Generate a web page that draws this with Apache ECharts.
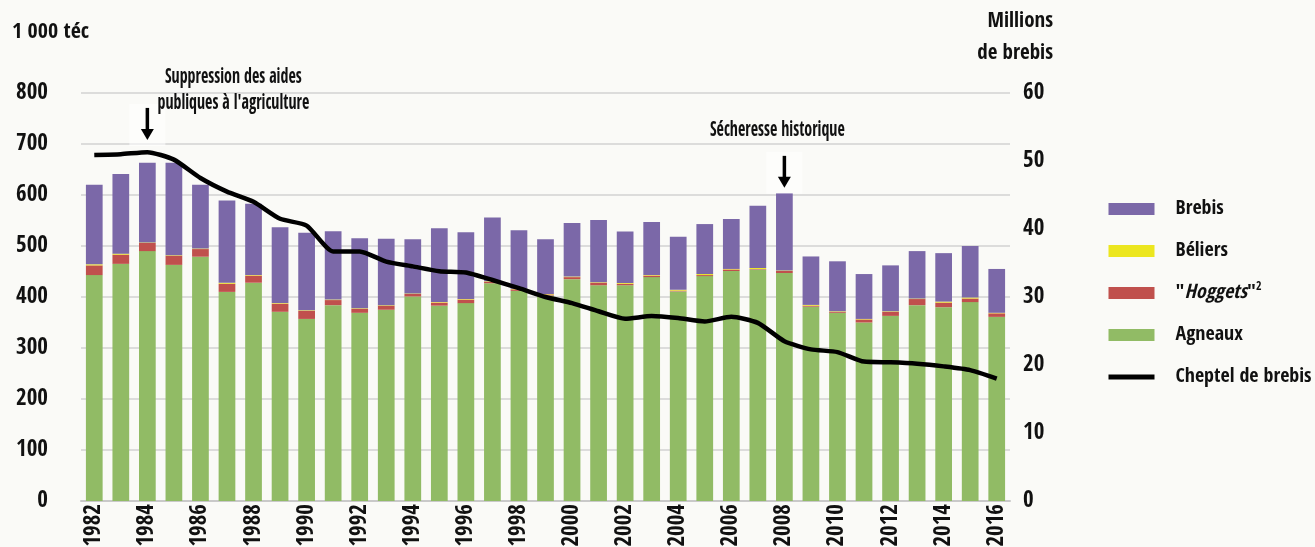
<!DOCTYPE html>
<html>
<head>
<meta charset="utf-8">
<script src="https://cdn.jsdelivr.net/npm/echarts@6/dist/echarts.min.js"></script>
<style>
  html, body { margin: 0; padding: 0; background: #fafaf7; }
  #chart { width: 1315px; height: 547px; }
</style>
</head>
<body>
<div id="chart"></div>
<script>
'use strict';

var years = ['1982', '1983', '1984', '1985', '1986', '1987', '1988', '1989', '1990', '1991',
  '1992', '1993', '1994', '1995', '1996', '1997', '1998', '1999', '2000', '2001',
  '2002', '2003', '2004', '2005', '2006', '2007', '2008', '2009', '2010', '2011',
  '2012', '2013', '2014', '2015', '2016'];

// 1 000 téc
var agneaux = [443, 465, 490, 463, 479, 410, 428, 371, 357, 384, 369, 375, 401, 383, 388, 427, 412, 403,
  435, 423, 423, 439, 411, 441, 451, 454, 447, 381, 369, 350, 363, 384, 380, 390, 361];
var hoggets = [19, 18, 16, 18, 15, 16, 14, 16, 16, 10, 8, 8, 5, 6, 7, 3, 3, 2,
  4, 5, 3, 3, 1.5, 2, 3, 1, 4, 2, 2, 6, 8, 12, 9, 7, 7];
var beliers = [2, 2, 1, 1, 1, 2, 1, 1, 1, 1, 1, 1, 1, 1, 1, 1, 1, 1,
  1, 1, 1.5, 1, 1.5, 2, 1, 2, 1, 1.5, 1, 1, 1, 1, 2, 2, 1];
var brebis = [156, 156, 156, 181, 125, 161, 140, 149, 152, 134, 137, 130, 106, 145, 131, 125, 115, 107,
  105, 122, 101, 104, 104, 98, 98, 122, 152, 95, 98, 88, 90, 93, 95, 101, 86];

// millions de brebis
var cheptel = [50.9, 51.0, 51.3, 50.2, 47.5, 45.5, 44.0, 41.5, 40.5, 36.7, 36.7, 35.2, 34.5, 33.8, 33.6,
  32.5, 31.3, 30.0, 29.1, 27.9, 26.8, 27.2, 26.9, 26.4, 27.1, 26.2, 23.5, 22.3, 21.9, 20.5,
  20.4, 20.2, 19.8, 19.25, 18.0];

var leftTicks = [0, 800, 100];
var rightTicks = [0, 60, 10];

var FONT = "'Open Sans Condensed', 'DejaVu Sans Condensed', sans-serif";
var HOG = '"Hoggets"2';

var option = {
  backgroundColor: '#fafaf7',
  animation: false,
  textStyle: { fontFamily: FONT, fontWeight: 'bold', color: '#111' },
  grid: {
    left: 81,
    right: 305,
    top: 93,
    bottom: 46,
    outerBoundsMode: 'none'
  },
  legend: {
    orient: 'vertical',
    left: 1101,
    top: 192,
    itemWidth: 46,
    itemHeight: 12,
    itemGap: 18,
    data: [
      { name: 'Brebis', icon: 'rect' },
      { name: 'Béliers', icon: 'rect' },
      { name: HOG, icon: 'rect' },
      { name: 'Agneaux', icon: 'rect' },
      { name: 'Cheptel de brebis', itemStyle: { opacity: 0 }, lineStyle: { width: 5, color: '#000' } }
    ],
    formatter: function (name) {
      if (name === HOG) {
        return '{p|}{n|"}{i|Hoggets}{n|"}{s|2}';
      }
      return '{p|}{n|' + name + '}';
    },
    textStyle: {
      fontFamily: FONT,
      fontWeight: 'bold',
      fontSize: 20,
      color: '#111',
      lineHeight: 24,
      rich: {
        p: { width: 16 },
        n: { fontFamily: FONT, fontWeight: 'bold', fontSize: 20, lineHeight: 24, color: '#111' },
        i: { fontFamily: FONT, fontWeight: 'bold', fontStyle: 'italic', fontSize: 20, lineHeight: 24, color: '#111' },
        s: { fontFamily: FONT, fontWeight: 'bold', fontSize: 12, lineHeight: 24, color: '#111', verticalAlign: 'top', padding: [0, 0, 9, 0] }
      }
    }
  },
  xAxis: {
    type: 'category',
    data: years,
    axisTick: { show: false },
    axisLine: { lineStyle: { color: '#c9c9c9', width: 2 } },
    axisLabel: {
      interval: 1,
      rotate: 90,
      margin: 3,
      fontFamily: FONT,
      fontWeight: 'bold',
      fontSize: 23,
      color: '#111'
    }
  },
  yAxis: [{
    type: 'value',
    min: leftTicks[0],
    max: leftTicks[1],
    interval: leftTicks[2],
    axisLine: { show: false },
    axisTick: { show: false },
    axisLabel: { margin: 33, fontFamily: FONT, fontWeight: 'bold', fontSize: 23, color: '#111' },
    splitLine: { lineStyle: { color: '#d2d2d2', width: 1.5 } }
  }, {
    type: 'value',
    min: rightTicks[0],
    max: rightTicks[1],
    interval: rightTicks[2],
    axisLine: { show: false },
    axisTick: { show: false },
    axisLabel: { margin: 13, fontFamily: FONT, fontWeight: 'bold', fontSize: 23, color: '#111' },
    splitLine: { show: false }
  }],
  series: [{
    name: 'Agneaux',
    type: 'bar',
    stack: 'total',
    barCategoryGap: '37%',
    itemStyle: { color: '#91bb65' },
    data: agneaux
  }, {
    name: HOG,
    type: 'bar',
    stack: 'total',
    itemStyle: { color: '#c0504d' },
    data: hoggets
  }, {
    name: 'Béliers',
    type: 'bar',
    stack: 'total',
    itemStyle: { color: '#ece61f' },
    data: beliers
  }, {
    name: 'Brebis',
    type: 'bar',
    stack: 'total',
    itemStyle: { color: '#7b68a8' },
    data: brebis
  }, {
    name: 'Cheptel de brebis',
    type: 'line',
    yAxisIndex: 1,
    symbol: 'none',
    smooth: 0.2,
    lineStyle: { color: '#000', width: 4.5 },
    z: 5,
    data: cheptel
  }]
};

var myChart = echarts.init(document.getElementById('chart'));
myChart.setOption(option);

// annotations, anchored on the data coordinates
function arrowAt(year, value) {
  var p = myChart.convertToPixel({ xAxisIndex: 0, yAxisIndex: 0 }, [year, value]);
  var x = p[0], y = p[1];
  return [{
    type: 'rect',
    shape: { x: x - 18, y: y - 36, width: 36, height: 42 },
    style: { fill: 'rgba(255,255,255,0.55)' },
    z: 10
  }, {
    type: 'line',
    shape: { x1: x, y1: y - 32, x2: x, y2: y - 9 },
    style: { stroke: '#000', lineWidth: 3.5 },
    z: 11
  }, {
    type: 'polygon',
    shape: { points: [[x - 6.5, y - 11], [x + 6.5, y - 11], [x, y]] },
    style: { fill: '#000' },
    z: 11
  }];
}

function noteAt(year, value, dx, dy, txt) {
  var p = myChart.convertToPixel({ xAxisIndex: 0, yAxisIndex: 0 }, [year, value]);
  return {
    type: 'text',
    x: p[0] + dx,
    y: p[1] + dy,
    scaleX: 0.76,
    style: {
      text: txt,
      fontFamily: FONT,
      fontWeight: 'bold',
      fontSize: 21,
      lineHeight: 26,
      fill: '#111',
      align: 'center',
      verticalAlign: 'middle'
    },
    z: 12
  };
}

var graphics = [];
graphics = graphics.concat(arrowAt('1984', 708));
graphics = graphics.concat(arrowAt('2008', 614));
graphics.push(noteAt('1984', 708, 86, -49, 'Suppression des aides\npubliques à l\'agriculture'));
graphics.push(noteAt('2008', 614, -7, -57, 'Sécheresse historique'));
graphics.push({
  type: 'text', x: 12, y: 32,
  style: { text: '1 000 téc', fontFamily: FONT, fontWeight: 'bold', fontSize: 22, fill: '#111', verticalAlign: 'middle' }
});
graphics.push({
  type: 'text', x: 1053, y: 38,
  style: { text: 'Millions\nde brebis', fontFamily: FONT, fontWeight: 'bold', fontSize: 21, lineHeight: 32, fill: '#111', align: 'right', verticalAlign: 'middle' }
});

myChart.setOption({ graphic: graphics });
</script>
</body>
</html>
